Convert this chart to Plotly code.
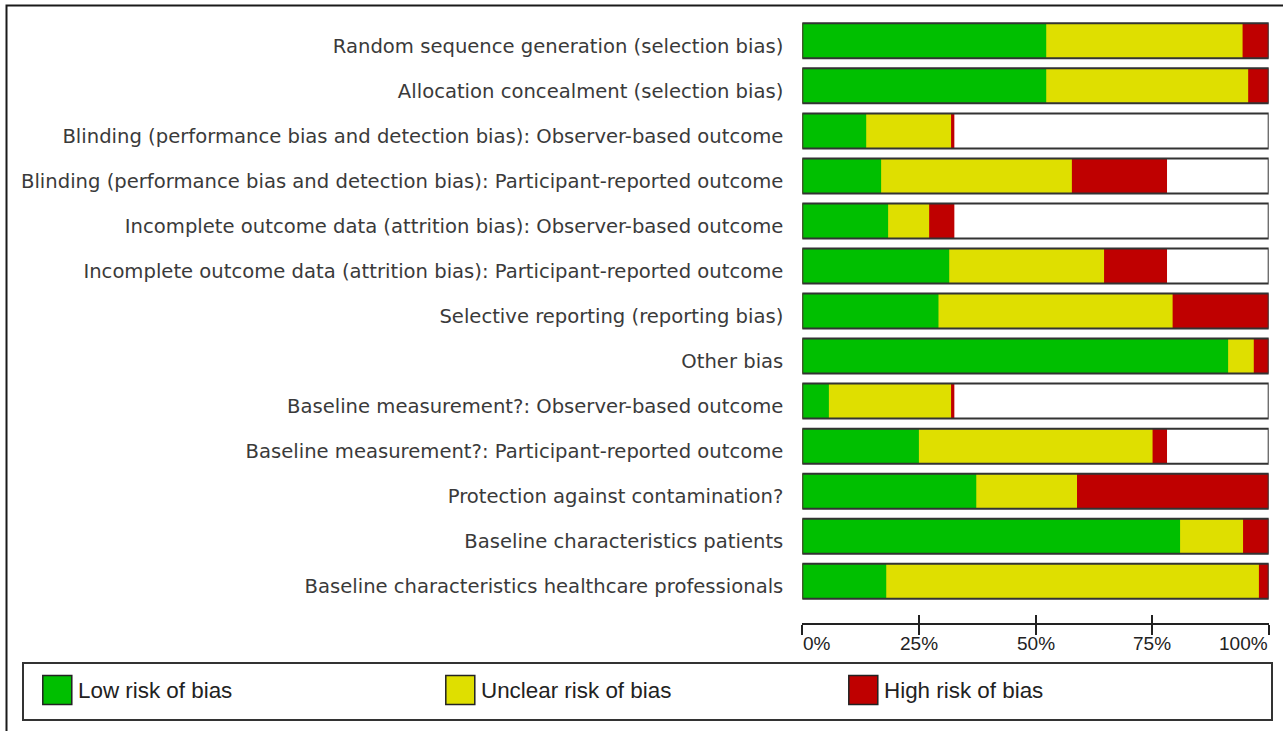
import numpy as np
import plotly.graph_objects as go

# ---------------- data ----------------
categories = [
    "Random sequence generation (selection bias)",
    "Allocation concealment (selection bias)",
    "Blinding (performance bias and detection bias): Observer-based outcome",
    "Blinding (performance bias and detection bias): Participant-reported outcome",
    "Incomplete outcome data (attrition bias): Observer-based outcome",
    "Incomplete outcome data (attrition bias): Participant-reported outcome",
    "Selective reporting (reporting bias)",
    "Other bias",
    "Baseline measurement?: Observer-based outcome",
    "Baseline measurement?: Participant-reported outcome",
    "Protection against contamination?",
    "Baseline characteristics patients",
    "Baseline characteristics healthcare professionals",
]
low_risk = [52.3, 52.3, 13.7, 16.9, 18.4, 31.5, 29.2, 91.3, 5.7, 25.0, 37.3, 81.0, 18.0]
unclear_risk = [42.1, 43.3, 18.2, 40.9, 8.8, 33.2, 50.2, 5.5, 26.2, 50.1, 21.6, 13.5, 79.9]
high_risk = [5.6, 4.4, 0.7, 20.4, 5.4, 13.5, 20.6, 3.2, 0.7, 3.1, 41.1, 5.5, 2.1]

legend_labels = ["Low risk of bias", "Unclear risk of bias", "High risk of bias"]
tick_values = [0, 25, 50, 75, 100]
tick_labels = ["0%", "25%", "50%", "75%", "100%"]

# ---------------- style ----------------
COLORS = ["#00BF00", "#DFDF00", "#BF0000"]
W, H = 1283, 731
BAR_W = 0.777
OUTLINE = "#333333"
SANS = "Liberation Sans, Arial, sans-serif"


def fx(px):
    return px / W


def fy(py):
    return 1 - py / H


cum_low = np.array(low_risk)
cum_unclear = cum_low + np.array(unclear_risk)
cum_high = cum_unclear + np.array(high_risk)
full = [100] * len(categories)

fig = go.Figure()

# white background of each bar box
fig.add_trace(go.Bar(y=categories, x=full, orientation="h", width=BAR_W,
                     marker=dict(color="white", line=dict(width=0)),
                     hoverinfo="skip", showlegend=False))
# overlaid cumulative segments (red under yellow under green)
for vals, col, name in [(cum_high, COLORS[2], legend_labels[2]),
                        (cum_unclear, COLORS[1], legend_labels[1]),
                        (cum_low, COLORS[0], legend_labels[0])]:
    fig.add_trace(go.Bar(y=categories, x=vals, orientation="h", width=BAR_W,
                         marker=dict(color=col, line=dict(width=0)),
                         name=name, showlegend=False))
# outline frame of each bar box (on overlay axis so it is on top)
fig.add_trace(go.Bar(y=categories, x=full, orientation="h", width=BAR_W,
                     xaxis="x3", yaxis="y",
                     marker=dict(color="rgba(0,0,0,0)", line=dict(color=OUTLINE, width=2)),
                     hoverinfo="skip", showlegend=False))

# legend drawn as its own small subplot
fig.add_trace(go.Scatter(
    x=list(range(len(legend_labels))), y=[0] * len(legend_labels),
    xaxis="x2", yaxis="y2", mode="markers",
    marker=dict(symbol="square", size=29, color=COLORS,
                line=dict(color="#222222", width=1.5)),
    hoverinfo="skip", showlegend=False, cliponaxis=False))

annotations = []
for i, lab in enumerate(legend_labels):
    annotations.append(dict(xref="x2", yref="y2", x=i, y=0, text=lab, showarrow=False,
                            xanchor="left", yanchor="middle", xshift=20, yshift=-1,
                            borderpad=0,
                            font=dict(family=SANS, size=22.4, color="#222222")))
# x tick labels (first left-aligned, last right-aligned, like the original)
for v, t in zip(tick_values, tick_labels):
    anchor = "left" if v == min(tick_values) else ("right" if v == max(tick_values) else "center")
    annotations.append(dict(xref="x", yref="paper", x=v, y=fy(632), text=t, showarrow=False,
                            xanchor=anchor, yanchor="top", borderpad=0,
                            font=dict(family=SANS, size=19, color="#222222")))

x_dom = [fx(802.3), fx(1268.7)]
y_dom = [fy(622.7), fy(18.3)]

fig.update_layout(
    template="none",
    width=W, height=H,
    margin=dict(l=0, r=0, t=0, b=0),
    paper_bgcolor="white", plot_bgcolor="rgba(0,0,0,0)",
    barmode="overlay",
    showlegend=False,
    xaxis=dict(domain=x_dom, anchor="y", range=[0, 100], showgrid=False, zeroline=False,
               showline=True, linecolor="#222222", linewidth=2,
               tickmode="array", tickvals=tick_values, showticklabels=False,
               ticks="outside", ticklen=10, tickwidth=2, tickcolor="#222222",
               automargin=False, fixedrange=True),
    xaxis3=dict(overlaying="x", anchor="y", side="bottom", range=[0, 100], showgrid=False,
                zeroline=False, showline=False, tickmode="array", tickvals=tick_values,
                ticks="inside", ticklen=8, tickwidth=2, tickcolor="#222222",
                showticklabels=False, automargin=False, fixedrange=True),
    yaxis=dict(domain=y_dom, anchor="x", type="category", range=[12.92, -0.5],
               showgrid=False, zeroline=False, showline=False, ticks="",
               ticklabelstandoff=18, ticklabelshift=-5,
               tickfont=dict(family="DejaVu Sans, sans-serif", size=19.6, color="#3a3a3a"),
               automargin=False, fixedrange=True),
    xaxis2=dict(domain=[fx(24), fx(1271)], anchor="y2", range=[-0.0826, 3.0117],
                showgrid=False, zeroline=False, showticklabels=False, ticks="",
                showline=True, mirror=True, linecolor=OUTLINE, linewidth=2,
                automargin=False, fixedrange=True),
    yaxis2=dict(domain=[fy(719), fy(664)], anchor="x2", range=[-1.055, 0.945],
                showgrid=False, zeroline=False, showticklabels=False, ticks="",
                showline=True, mirror=True, linecolor=OUTLINE, linewidth=2,
                automargin=False, fixedrange=True),
    annotations=annotations,
    shapes=[dict(type="rect", xref="paper", yref="paper",
                 x0=fx(6.5), y0=fy(5.5), x1=1.05, y1=-0.05,
                 line=dict(color="#1a1a1a", width=2), fillcolor="rgba(0,0,0,0)", layer="below")],
)

fig.write_html("out.html", config={"displayModeBar": False},
               post_script="document.body.style.margin='0';document.body.style.overflow='hidden';")
